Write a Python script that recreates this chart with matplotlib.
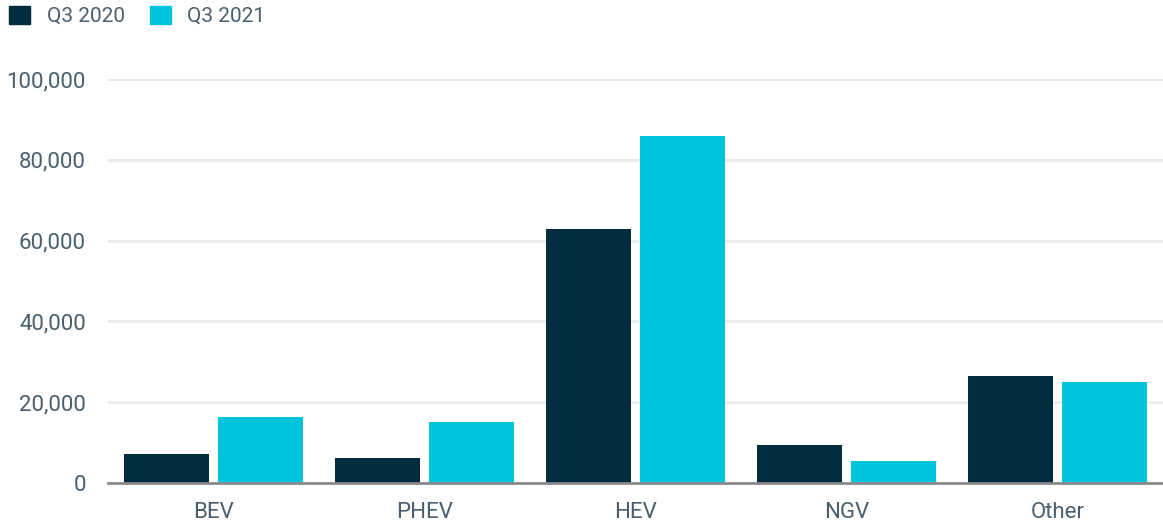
import matplotlib
matplotlib.use("Agg")
import matplotlib.pyplot as plt
from matplotlib.patches import Patch
from matplotlib.ticker import FuncFormatter
import numpy as np

# data
categories = ["BEV", "PHEV", "HEV", "NGV", "Other"]
q3_2020 = [7100, 6200, 62800, 9400, 26500]
q3_2021 = [16300, 15100, 85900, 5400, 25100]
y_ticks = [0, 20000, 40000, 60000, 80000, 100000]

dark = "#022d41"
cyan = "#00c3dc"
text_col = "#4a5f6e"

plt.rcParams['font.family'] = ['Roboto', 'DejaVu Sans']

fig = plt.figure(figsize=(11.63, 5.23), dpi=100)
ax = fig.add_axes([108 / 1163, 40 / 523, 1055 / 1163, 404 / 523])

x = np.arange(len(categories))
w = 0.40
ax.bar(x - 0.2235, q3_2020, width=w, color=dark, zorder=3)
ax.bar(x + 0.2235, q3_2021, width=w, color=cyan, zorder=3)

ax.set_xlim(-0.5, len(categories) - 0.5)
ax.set_ylim(0, 100000)
ax.set_yticks(y_ticks)
ax.yaxis.set_major_formatter(FuncFormatter(lambda v, p: f"{int(v):,}"))
ax.set_xticks(x)
ax.set_xticklabels(categories)

ax.grid(axis="y", color="#ebebeb", linewidth=2, zorder=0)
for s in ["top", "right", "left"]:
    ax.spines[s].set_visible(False)
ax.spines["bottom"].set_color("#8a8a8a")
ax.spines["bottom"].set_linewidth(2)
ax.spines["bottom"].set_zorder(4)
ax.tick_params(axis="both", length=0, labelsize=16, labelcolor=text_col)
ax.tick_params(axis="y", pad=16)
ax.tick_params(axis="x", pad=14)

handles = [Patch(color=dark, label="Q3 2020"), Patch(color=cyan, label="Q3 2021")]
fig.legend(handles=handles, loc="upper left", bbox_to_anchor=(-0.008, 1.025), ncol=2,
           frameon=False, fontsize=15, labelcolor=text_col, handlelength=1.0,
           handleheight=1.0, handletextpad=0.8, columnspacing=1.2)

fig.savefig("out.png", dpi=100)
